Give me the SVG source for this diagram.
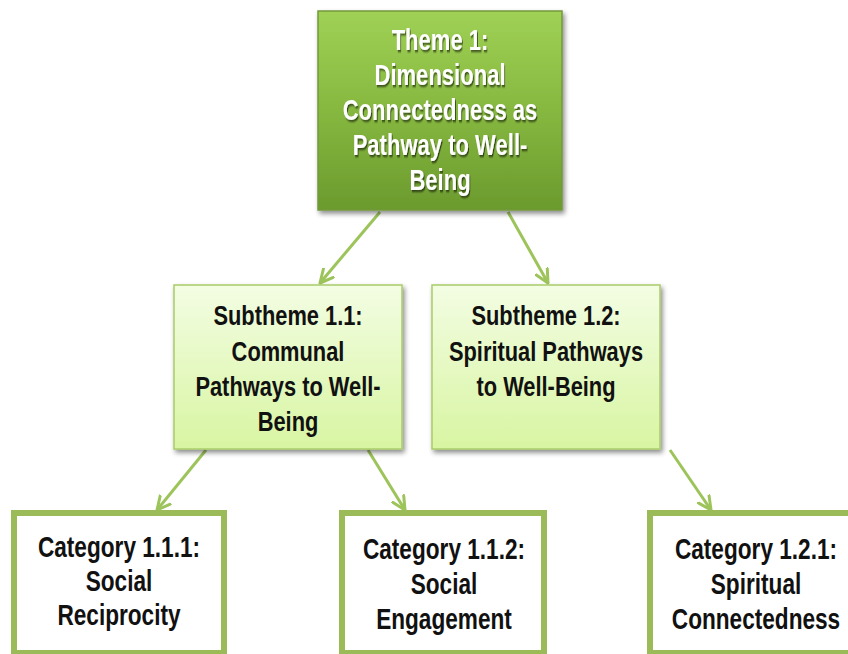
<svg xmlns="http://www.w3.org/2000/svg" width="848" height="654" viewBox="0 0 848 654">
<defs>
<style>
.t{font-family:"Liberation Sans",Arial,sans-serif;font-weight:bold;font-size:28px;text-anchor:middle}
.w{fill:#ffffff;font-size:29px}
.k{fill:#111111}
.c{font-size:29px}
.edge{stroke:#9dc45a;stroke-width:3;fill:none;marker-end:url(#ah)}
.cat{fill:#ffffff;stroke:#9bbb59;stroke-width:6}
.sub{fill:url(#gSub);stroke:#a9cc6a;stroke-width:1.5}
</style>
<linearGradient id="gTop" x1="0" y1="0" x2="0" y2="1">
<stop offset="0" stop-color="#a0d156"/>
<stop offset="0.5" stop-color="#86b840"/>
<stop offset="1" stop-color="#6b9a2d"/>
</linearGradient>
<linearGradient id="gSub" x1="0" y1="0" x2="0" y2="1">
<stop offset="0" stop-color="#f3fde3"/>
<stop offset="1" stop-color="#d8f5a2"/>
</linearGradient>
<filter id="sh" x="-10%" y="-10%" width="125%" height="125%">
<feGaussianBlur in="SourceAlpha" stdDeviation="2.5"/>
<feOffset dx="2" dy="3" result="b"/>
<feComponentTransfer><feFuncA type="linear" slope="0.45"/></feComponentTransfer>
<feMerge><feMergeNode/><feMergeNode in="SourceGraphic"/></feMerge>
</filter>
<filter id="tsh" x="-10%" y="-10%" width="120%" height="130%">
<feGaussianBlur in="SourceAlpha" stdDeviation="0.8"/>
<feOffset dx="1" dy="1.5"/>
<feComponentTransfer><feFuncA type="linear" slope="0.6"/></feComponentTransfer>
<feMerge><feMergeNode/><feMergeNode in="SourceGraphic"/></feMerge>
</filter>
<marker id="ah" viewBox="0 0 16 16" refX="14" refY="8" markerWidth="16" markerHeight="16" markerUnits="userSpaceOnUse" orient="auto">
<path d="M1,1.5 L14,8 L1,14.5" fill="none" stroke="#9dc45a" stroke-width="3" stroke-linecap="round" stroke-linejoin="round"/>
</marker>
</defs>
<rect width="848" height="654" fill="#ffffff"/>

<g id="connectors">
<line class="edge" x1="380" y1="212" x2="320" y2="283"/>
<line class="edge" x1="508" y1="212" x2="548" y2="283"/>
<line class="edge" x1="206" y1="450" x2="157" y2="510"/>
<line class="edge" x1="368" y1="450" x2="405" y2="510"/>
<line class="edge" x1="670" y1="450" x2="711" y2="510"/>
</g>

<g id="theme1">
<rect x="318" y="11" width="244" height="199" fill="url(#gTop)" stroke="#73993a" stroke-width="1.5" filter="url(#sh)"/>
<g transform="translate(440,0) scale(0.76,1)" filter="url(#tsh)">
<text class="t w" x="0" y="50">Theme 1:</text>
<text class="t w" x="0" y="85">Dimensional</text>
<text class="t w" x="0" y="120">Connectedness as</text>
<text class="t w" x="0" y="155">Pathway to Well-</text>
<text class="t w" x="0" y="190">Being</text>
</g>
</g>

<g id="subtheme11">
<rect class="sub" x="174" y="285" width="228" height="164" filter="url(#sh)"/>
<g transform="translate(288,0) scale(0.78,1)">
<text class="t k" x="0" y="325">Subtheme 1.1:</text>
<text class="t k" x="0" y="361">Communal</text>
<text class="t k" x="0" y="396">Pathways to Well-</text>
<text class="t k" x="0" y="431">Being</text>
</g>
</g>

<g id="subtheme12">
<rect class="sub" x="432" y="285" width="228" height="164" filter="url(#sh)"/>
<g transform="translate(546,0) scale(0.78,1)">
<text class="t k" x="0" y="325">Subtheme 1.2:</text>
<text class="t k" x="0" y="361">Spiritual Pathways</text>
<text class="t k" x="0" y="396">to Well-Being</text>
</g>
</g>

<g id="category111">
<rect class="cat" x="14" y="513" width="210" height="140"/>
<g transform="translate(119,0) scale(0.78,1)">
<text class="t k c" x="0" y="557">Category 1.1.1:</text>
<text class="t k c" x="0" y="591">Social</text>
<text class="t k c" x="0" y="625">Reciprocity</text>
</g>
</g>

<g id="category112">
<rect class="cat" x="342" y="513" width="202" height="140"/>
<g transform="translate(444,0) scale(0.78,1)">
<text class="t k c" x="0" y="559">Category 1.1.2:</text>
<text class="t k c" x="0" y="594">Social</text>
<text class="t k c" x="0" y="629">Engagement</text>
</g>
</g>

<g id="category121">
<rect class="cat" x="650" y="513" width="210" height="140"/>
<g transform="translate(756,0) scale(0.78,1)">
<text class="t k c" x="0" y="559">Category 1.2.1:</text>
<text class="t k c" x="0" y="594">Spiritual</text>
<text class="t k c" x="0" y="629">Connectedness</text>
</g>
</g>
</svg>
